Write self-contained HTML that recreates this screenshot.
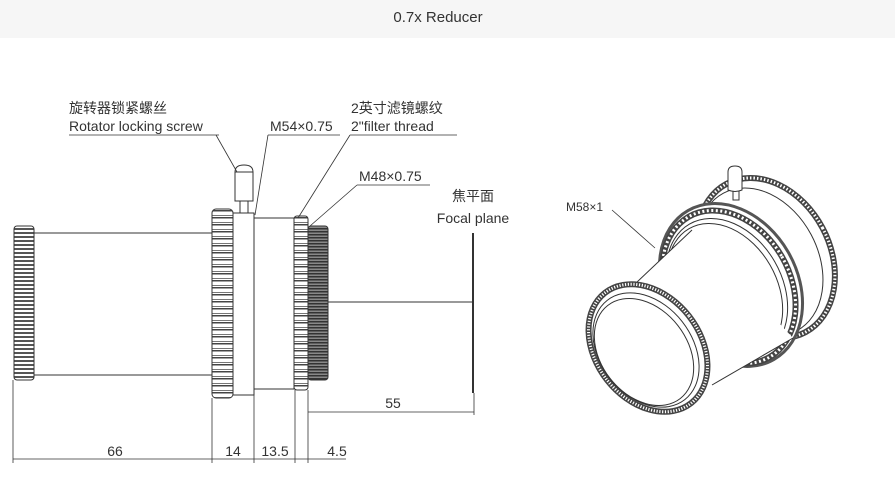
<!DOCTYPE html>
<html><head><meta charset="utf-8"><style>
body{margin:0;width:895px;height:487px;background:#fff;overflow:hidden}
svg{display:block}
text{font-family:"Liberation Sans","Noto Sans CJK SC",sans-serif;fill:#333}
</style></head><body>
<svg width="895" height="487" viewBox="0 0 895 487">
<defs>
<pattern id="kn" width="6" height="4" patternUnits="userSpaceOnUse"><rect width="6" height="4" fill="#fff"/><rect y="0" width="6" height="2" fill="#555"/></pattern>
<pattern id="kn2" width="6" height="7" patternUnits="userSpaceOnUse"><rect width="6" height="7" fill="#fff"/><rect y="0" width="6" height="1.5" fill="#444"/><rect y="5" width="6" height="1" fill="#777"/></pattern>
<pattern id="kn3" width="6" height="3" patternUnits="userSpaceOnUse"><rect width="6" height="3" fill="#888"/><rect width="6" height="1.5" fill="#333"/></pattern>
</defs>
<rect x="0" y="0" width="895" height="38" fill="#f6f6f6"/>
<text x="438" y="22" font-size="15" text-anchor="middle" fill="#333">0.7x Reducer</text>
<g stroke="#333" stroke-width="1" fill="none">
<rect x="14" y="226" width="20" height="154" rx="3" fill="url(#kn)"/>
<line x1="34" y1="233" x2="212" y2="233"/><line x1="34" y1="375" x2="212" y2="375"/>
<rect x="212" y="209" width="21" height="189" rx="4" fill="url(#kn2)"/>
<rect x="233" y="213" width="21" height="182" fill="#fff"/>
<rect x="240" y="200" width="8" height="13" fill="#fff"/>
<path d="M235 201 V172 Q235 165 244 165 Q253 165 253 172 V201 Z" fill="#fff"/>
<line x1="235" y1="172" x2="253" y2="172"/>
<rect x="254" y="218" width="40" height="171" fill="#fff"/>
<rect x="294" y="216" width="14" height="174" rx="3" fill="url(#kn2)"/>
<rect x="308" y="226" width="20" height="154" rx="3" fill="url(#kn3)"/>
<line x1="328" y1="302" x2="473" y2="302"/>
<line x1="473" y1="233" x2="473" y2="393" stroke-width="2"/>
<line x1="69" y1="135" x2="219" y2="135" stroke-width="0.8"/>
<line x1="216" y1="135" x2="237" y2="172" stroke-width="0.8"/>
<line x1="268" y1="135" x2="340" y2="135" stroke-width="0.8"/>
<line x1="268" y1="135" x2="255" y2="215" stroke-width="0.8"/>
<line x1="350" y1="135" x2="457" y2="135" stroke-width="0.8"/>
<line x1="350" y1="135" x2="298" y2="218" stroke-width="0.8"/>
<line x1="357" y1="185" x2="430" y2="185" stroke-width="0.8"/>
<line x1="357" y1="185" x2="310" y2="226" stroke-width="0.8"/>
<g stroke-width="0.8">
<line x1="13" y1="380" x2="13" y2="463"/><line x1="212" y1="398" x2="212" y2="463"/>
<line x1="254" y1="395" x2="254" y2="463"/><line x1="295" y1="390" x2="295" y2="463"/>
<line x1="308" y1="390" x2="308" y2="463"/><line x1="474" y1="393" x2="474" y2="415"/>
<line x1="13" y1="459" x2="346" y2="459"/>
<line x1="308" y1="412" x2="474" y2="412"/>
</g>
<!-- 3D view -->
<g stroke-width="1">
<!-- back ring -->
<ellipse cx="766" cy="258" rx="64" ry="84" transform="rotate(-28 766 258)" fill="#fff" stroke="#444" stroke-width="6"/>
<ellipse cx="766" cy="258" rx="64" ry="84" transform="rotate(-28 766 258)" stroke="#fff" stroke-width="3" stroke-dasharray="1.5 2"/>
<ellipse cx="760" cy="262" rx="58" ry="78" transform="rotate(-28 760 262)" fill="#fff"/>
<!-- middle ring -->
<ellipse cx="731" cy="285" rx="66" ry="86" transform="rotate(-30 731 285)" fill="#fff" stroke="#555" stroke-width="3"/>
<ellipse cx="729" cy="287" rx="61" ry="81" transform="rotate(-30 729 287)" fill="#fff" stroke="#444" stroke-width="6"/>
<ellipse cx="729" cy="287" rx="61" ry="81" transform="rotate(-30 729 287)" stroke="#fff" stroke-width="3" stroke-dasharray="2 2.5"/>
<ellipse cx="727" cy="289" rx="55" ry="75" transform="rotate(-30 727 289)" fill="#fff"/>
<ellipse cx="725" cy="291" rx="52" ry="72" transform="rotate(-30 725 291)" fill="#fff"/>
<!-- tube -->
<path d="M618 300 L692 230 L793 338 L712 385 Z" fill="#fff" stroke="none"/>
<line x1="618" y1="300" x2="692" y2="230"/>
<line x1="712" y1="385" x2="793" y2="338"/>
<!-- front -->
<ellipse cx="648" cy="348" rx="52" ry="70" transform="rotate(-38 648 348)" fill="#fff" stroke="#444" stroke-width="6"/>
<ellipse cx="648" cy="348" rx="52" ry="70" transform="rotate(-38 648 348)" stroke="#fff" stroke-width="3" stroke-dasharray="1.2 1.6"/>
<ellipse cx="646" cy="350" rx="46" ry="63" transform="rotate(-38 646 350)" fill="#fff"/>
<ellipse cx="644" cy="352" rx="43" ry="59" transform="rotate(-38 644 352)" fill="#fff"/>
<!-- screw -->
<rect x="733" y="180" width="6" height="20" fill="#fff"/>
<path d="M728 190 V172 Q728 166 735 166 Q742 166 742 172 V190 Q735 193 728 190 Z" fill="#fff"/>
<line x1="612" y1="210" x2="655" y2="248" stroke-width="0.8"/>
</g>
</g>
<g font-size="14">
<text x="69" y="113">旋转器锁紧螺丝</text>
<text x="69" y="131">Rotator locking screw</text>
<text x="270" y="131">M54×0.75</text>
<text x="351" y="113">2英寸滤镜螺纹</text>
<text x="351" y="131">2"filter thread</text>
<text x="359" y="181">M48×0.75</text>
<text x="473" y="201" text-anchor="middle">焦平面</text>
<text x="473" y="223" text-anchor="middle">Focal plane</text>
<text x="393" y="408" text-anchor="middle">55</text>
<text x="115" y="456" text-anchor="middle">66</text>
<text x="233" y="456" text-anchor="middle">14</text>
<text x="275" y="456" text-anchor="middle">13.5</text>
<text x="337" y="456" text-anchor="middle">4.5</text>
<text x="566" y="211" font-size="12">M58×1</text>
</g>
</svg>
</body></html>
